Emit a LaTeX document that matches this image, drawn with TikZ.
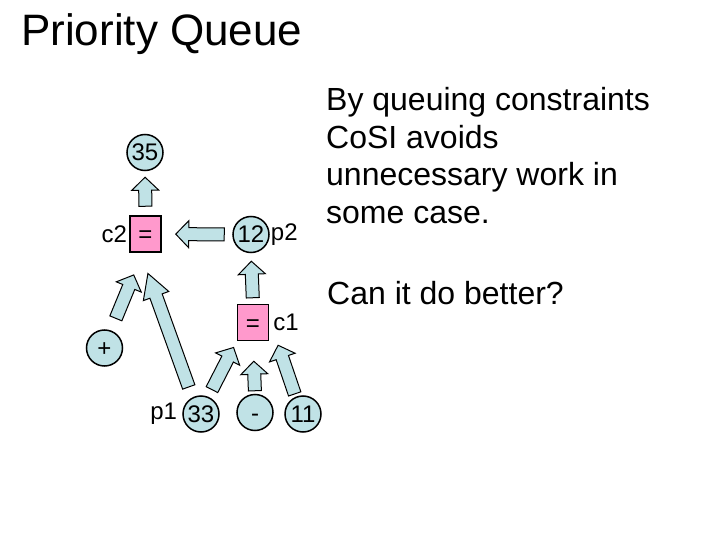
\documentclass[tikz,border=0pt]{standalone}
\usepackage{fontspec}
\setmainfont{Liberation Sans}
\usepackage{tikz}
\usetikzlibrary{positioning, calc, shapes}
\definecolor{paleBlue}{RGB}{192,226,230}
\definecolor{boxPink}{RGB}{255,153,204}
\tikzstyle{blueCircle} = [
    circle,
    draw,
    fill=paleBlue,
    line width=1.5pt,
    minimum size=36pt,
    inner sep=0pt,
    text height=17pt,
    text depth=0pt,
    font=\fontsize{24}{28}\selectfont
    ]
\tikzstyle{pinkRectangle} = [
    rectangle,
    draw,
    fill=boxPink,
    line width=1.5pt,
    minimum width=31pt,
    minimum height=36pt,
    inner sep=0pt,
    text height=17pt,
    text depth=0pt,
    font=\fontsize{24}{28}\selectfont
    ]
\tikzstyle{smallLabel} = [
    inner sep=0pt,
    font=\fontsize{24}{28}\selectfont
    ]
\tikzstyle{bigText} = [
    inner sep=0pt,
    align=left,
    anchor=base west,
    font=\fontsize{32}{37.5}\selectfont
    ]
\tikzstyle{fatArrow} = [
    draw,
    fill=paleBlue,
    line width=1pt,
    line join=miter
    ]
\newcommand{\blockarrow}[5][13pt]{%
  \coordinate (ba-s) at ($(#2)!#4!(#3)$);
  \coordinate (ba-t) at ($(#3)!#5!(#2)$);
  \coordinate (ba-b) at ($(ba-t)!#1!(ba-s)$);
  \draw[fatArrow] ($(ba-s)!6.5pt!90:(ba-t)$) -- ($(ba-b)!6.5pt!90:(ba-t)$)
    -- ($(ba-b)!13.5pt!90:(ba-t)$) -- (ba-t) -- ($(ba-b)!13.5pt!-90:(ba-t)$)
    -- ($(ba-b)!6.5pt!-90:(ba-t)$) -- ($(ba-s)!6.5pt!-90:(ba-t)$) -- cycle;
}
\begin{document}
\begin{tikzpicture}[x=1pt, y=-1pt]
      \useasboundingbox (0,0) rectangle (720,540);
      \node[inner sep=0pt, anchor=base west, font=\fontsize{44}{50}\selectfont] at (21,46) (title) {Priority Queue};
      \node[blueCircle] at (145,152.5) (n35) {35};
      \node[pinkRectangle] at (145.5,234) (c2) {=};
      \node[smallLabel, left=2pt of c2] (c2lbl) {c2};
      \node[blueCircle] at (251,234.5) (n12) {12};
      \node[smallLabel, right=1pt of n12] (p2lbl) {p2};
      \node[pinkRectangle] at (253,322.5) (c1) {=};
      \node[smallLabel, right=4pt of c1] (c1lbl) {c1};
      \node[blueCircle] at (104.5,348) (plus) {+};
      \node[blueCircle] at (201,414) (n33) {33};
      \node[smallLabel, left=5pt of n33] (p1lbl) {p1};
      \node[blueCircle] at (255,412.5) (minus) {-};
      \node[blueCircle] at (303,414) (n11) {11};
      \blockarrow{c2.north}{n35.south}{9pt}{6pt}
      \blockarrow{n12.west}{c2.east}{8pt}{14pt}
      \blockarrow{c1.north}{n12.south}{6pt}{8pt}
      \blockarrow{plus.70}{c2.-98}{13pt}{24pt}
      \blockarrow[24pt]{n33.117}{c2.-105}{11pt}{22pt}
      \blockarrow{n33.67}{c1.south west}{8pt}{7pt}
      \blockarrow{minus.north}{c1.south}{3pt}{20pt}
      \blockarrow{n11.113}{c1lbl.south west}{3pt}{15pt}
      \node[bigText] at (326,223.5) (notes) {By queuing constraints\\CoSI avoids\\unnecessary work in\\some case.};
      \node[bigText] at (327,304) (question) {Can it do better?};
    \end{tikzpicture}
\end{document}
